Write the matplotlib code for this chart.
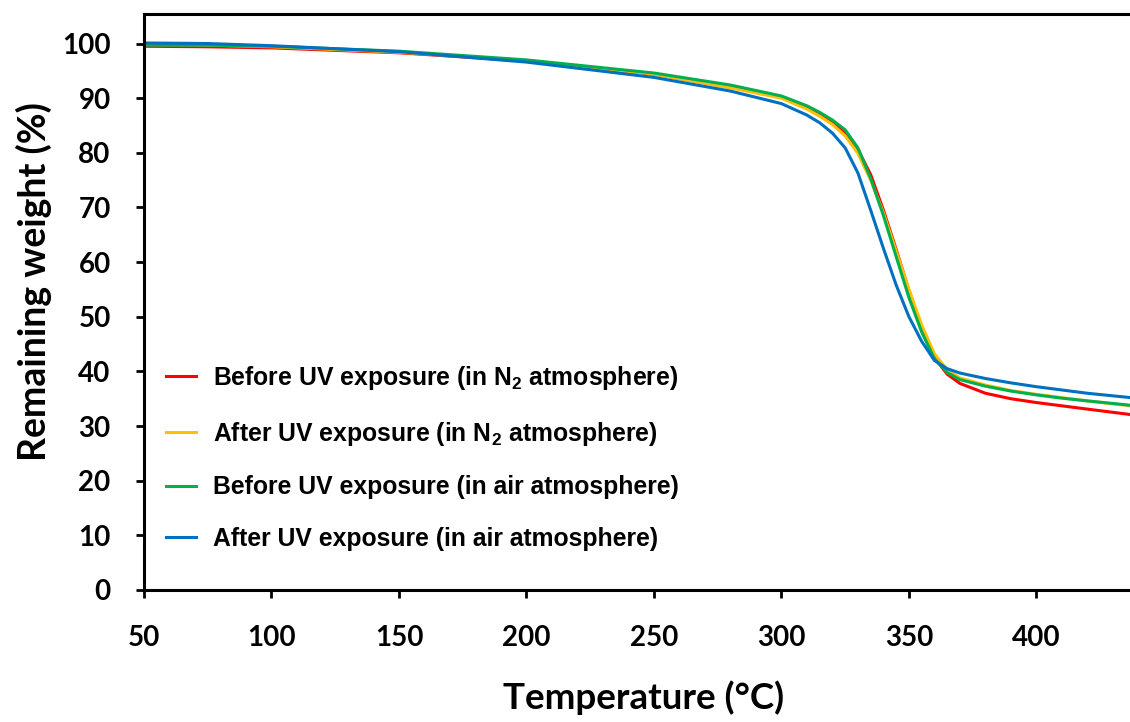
import matplotlib
matplotlib.use("Agg")
import matplotlib.pyplot as plt

# temperature points (deg C)
temp = [50, 75, 100, 150, 200, 250, 280, 300, 310, 315, 320, 325, 330, 335, 340,
        345, 350, 355, 360, 365, 370, 380, 390, 400, 410, 420, 437]

# remaining weight (%) for each run
before_n2 = [99.5, 99.4, 99.2, 98.3, 96.8, 94.4, 92.0, 90.2, 88.2, 87.0, 85.5, 83.6, 80.6, 76.0, 69.5,
             62.3, 54.8, 48.0, 42.5, 39.5, 37.8, 36.0, 35.0, 34.3, 33.7, 33.1, 32.1]
after_n2 = [99.8, 99.7, 99.4, 98.4, 96.9, 94.4, 91.9, 90.0, 88.0, 86.7, 85.2, 83.1, 79.9, 75.0, 69.0,
            62.0, 55.0, 48.5, 43.2, 40.3, 38.8, 37.5, 36.5, 35.8, 35.2, 34.6, 33.7]
before_air = [99.7, 99.7, 99.5, 98.6, 97.0, 94.6, 92.4, 90.4, 88.6, 87.4, 86.0, 84.2, 80.9, 75.3, 68.5,
              61.0, 53.5, 47.2, 42.3, 39.8, 38.5, 37.3, 36.4, 35.7, 35.1, 34.6, 33.8]
after_air = [100.1, 100.0, 99.6, 98.5, 96.6, 93.8, 91.3, 89.0, 86.9, 85.5, 83.6, 80.9, 76.3, 69.5, 62.5,
             55.8, 50.0, 45.5, 42.0, 40.5, 39.7, 38.7, 37.9, 37.2, 36.6, 36.0, 35.2]

labels = ["Before UV exposure (in N$_2$ atmosphere)",
          "After UV exposure (in N$_2$ atmosphere)",
          "Before UV exposure (in air atmosphere)",
          "After UV exposure (in air atmosphere)"]
colors = ["#FF0000", "#FFC000", "#00B050", "#0070C0"]

plt.rcParams["mathtext.fontset"] = "custom"
plt.rcParams["mathtext.rm"] = "Liberation Sans:bold"
plt.rcParams["mathtext.bf"] = "Liberation Sans:bold"
plt.rcParams["mathtext.default"] = "rm"

fig = plt.figure(figsize=(11.3, 7.22), dpi=100)
ax = fig.add_axes([144 / 1130, 1 - 590 / 722, 1 - 144 / 1130, (590 - 14) / 722])

for y, lab, c in zip([before_n2, after_n2, before_air, after_air], labels, colors):
    ax.plot(temp, y, color=c, lw=2.2, label=lab)

ax.set_xlim(50, 436.7)
ax.set_ylim(0, 105.4)
ax.set_xticks(range(50, 401, 50))
ax.set_yticks(range(0, 101, 10))

for s in ax.spines.values():
    s.set_linewidth(2.2)
ax.spines["right"].set_visible(False)
ax.tick_params(direction="out", length=6, width=2)
ax.tick_params(axis="x", pad=19)
ax.tick_params(axis="y", pad=18)
for t in ax.get_xticklabels() + ax.get_yticklabels():
    t.set_fontfamily("Lato")
    t.set_fontweight("bold")
    t.set_fontsize(20)

ax.set_xlabel("Temperature (°C)", fontfamily="Lato", fontweight="bold", fontsize=26.5)
ax.set_ylabel("Remaining weight (%)", fontfamily="Lato", fontweight="bold", fontsize=27)
ax.xaxis.set_label_coords(0.507, -0.157)
ax.yaxis.set_label_coords(-0.093, 0.535)

ax.legend(loc="upper left", bbox_to_anchor=(166 / 1130, 1 - 364 / 722), bbox_transform=fig.transFigure,
          frameon=False, borderpad=0, borderaxespad=0, handlelength=1.2, handletextpad=0.7,
          labelspacing=1.12, prop={"family": "Liberation Sans", "weight": "bold", "size": 17.8})

fig.savefig("out.png", dpi=100)
